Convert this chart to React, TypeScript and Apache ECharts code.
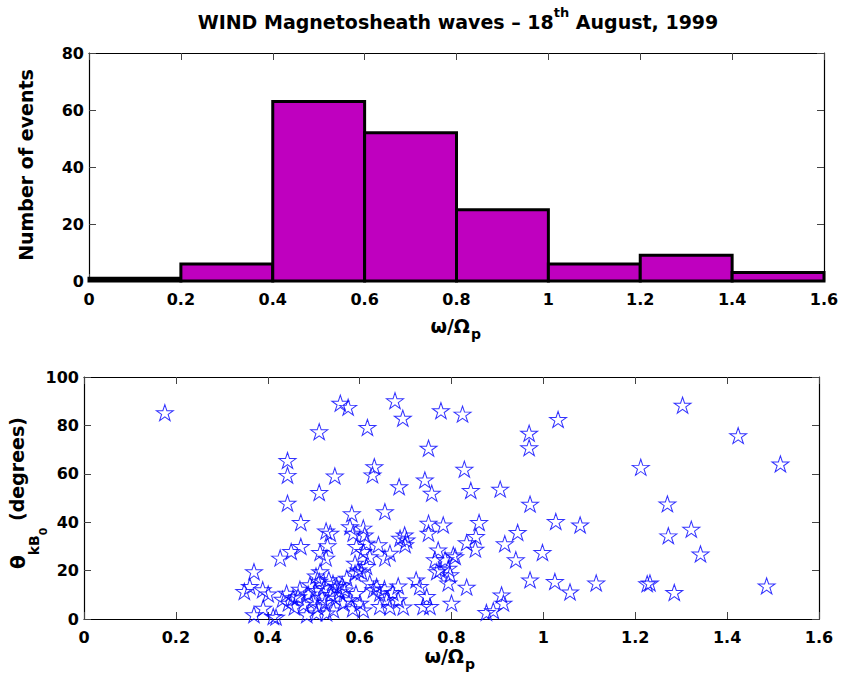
import React, { useEffect, useRef } from 'react';
import * as echarts from 'echarts';

// Histogram: bin edges in omega/Omega_p and number of events per bin
const binEdges = [0, 0.2, 0.4, 0.6, 0.8, 1.0, 1.2, 1.4, 1.6];
const eventCounts = [1, 6, 63, 52, 25, 6, 9, 3];

// Scatter: [omega/Omega_p, theta_kB0 (degrees)]
const eventsBelow04 = [
  [0.176, 85.3],
  [0.349, 11.4], [0.361, 13.5], [0.370, 19.6], [0.370, 1.8], [0.389, 12.1], [0.390, 4.5],
];

const events04to06 = [
  [0.401, 10.4], [0.412, 1.1], [0.418, 0.8], [0.427, 25.2], [0.441, 10.7], [0.445, 6.6],
  [0.443, 65.5], [0.443, 59.4], [0.443, 47.9], [0.451, 27.9], [0.455, 8.8], [0.466, 9.2],
  [0.472, 39.9], [0.472, 30.0], [0.485, 1.8], [0.506, 2.5], [0.512, 77.4], [0.512, 52.3],
  [0.514, 27.5], [0.514, 19.6], [0.527, 36.4], [0.530, 30.3], [0.527, 25.2], [0.528, 2.5],
  [0.536, 35.5], [0.543, 3.8], [0.546, 59.1], [0.550, 13.5], [0.558, 89.2], [0.564, 6.6],
  [0.572, 16.9], [0.575, 87.5], [0.579, 8.0], [0.579, 38.2], [0.583, 43.5], [0.586, 35.5],
  [0.590, 23.1], [0.590, 19.0], [0.593, 30.0], [0.597, 20.3],
  [0.432, 8.2], [0.458, 5.0], [0.470, 12.3], [0.478, 6.1], [0.488, 10.4], [0.492, 14.2],
  [0.498, 7.5], [0.503, 11.8], [0.508, 5.1], [0.512, 15.6], [0.518, 9.0], [0.522, 13.0],
  [0.525, 6.9], [0.533, 16.3], [0.538, 10.2], [0.542, 14.8], [0.548, 8.6], [0.556, 11.3],
  [0.562, 14.1], [0.568, 12.0], [0.585, 4.3], [0.592, 10.6], [0.505, 17.8],
];

const events06to08 = [
  [0.617, 79.2], [0.677, 90.2], [0.694, 83.0], [0.777, 86.1], [0.750, 70.6], [0.632, 63.0],
  [0.628, 59.6], [0.686, 54.7], [0.742, 57.5], [0.757, 52.0], [0.655, 44.4], [0.608, 37.6],
  [0.611, 34.8], [0.750, 39.6], [0.782, 38.9], [0.750, 35.5], [0.688, 33.4], [0.702, 32.7],
  [0.698, 34.8], [0.699, 30.7], [0.641, 30.7], [0.615, 31.4], [0.608, 27.9], [0.622, 25.8],
  [0.655, 25.2], [0.666, 27.2], [0.771, 28.6], [0.764, 24.5], [0.786, 24.5], [0.775, 20.4],
  [0.793, 21.0], [0.797, 18.3], [0.768, 19.6], [0.793, 14.9], [0.615, 21.7], [0.604, 19.6],
  [0.723, 16.2], [0.731, 13.5], [0.684, 13.7], [0.746, 9.3], [0.738, 5.2], [0.753, 5.2],
  [0.695, 5.0], [0.666, 5.0], [0.684, 8.0], [0.630, 12.1], [0.644, 10.7], [0.622, 14.9],
  [0.637, 13.5], [0.601, 6.6], [0.608, 3.8], [0.644, 5.2], [0.659, 8.0], [0.654, 12.5],
  [0.672, 11.0],
];

const events08to10 = [
  [0.804, 26.5], [0.808, 25.8], [0.800, 6.6], [0.824, 84.7], [0.828, 61.9], [0.842, 53.1],
  [0.906, 53.7], [0.969, 76.8], [0.969, 70.8], [0.971, 47.5], [0.860, 39.9], [0.853, 34.1],
  [0.833, 31.6], [0.852, 28.9], [0.944, 35.8], [0.916, 31.1], [0.940, 24.5], [0.998, 27.5],
  [0.833, 13.2], [0.971, 16.2], [0.909, 10.0], [0.913, 6.6], [0.876, 2.7], [0.891, 3.5],
];

const eventsAbove10 = [
  [1.032, 82.5], [1.027, 40.3], [1.025, 15.5], [1.058, 11.2], [1.080, 38.9], [1.115, 14.9],
  [1.212, 62.7], [1.226, 14.6], [1.232, 14.9], [1.270, 47.6], [1.272, 34.4], [1.285, 11.0],
  [1.303, 88.4], [1.322, 37.1], [1.342, 26.9],
  [1.424, 75.8], [1.486, 13.7], [1.516, 64.1],
];

const FONT = '"DejaVu Sans", "Liberation Sans", sans-serif';
const STAR = 'path://M0,-100L22.45,-30.9L95.1,-30.9L36.3,11.8L58.8,80.9L0,38.2L-58.8,80.9L-36.3,11.8L-95.1,-30.9L-22.45,-30.9Z';

const xAxisFor = (gridIndex: number, position: string, showLabels: boolean) => ({
  type: 'value',
  gridIndex,
  position,
  min: 0,
  max: 1.6,
  interval: 0.2,
  axisLine: { show: true, onZero: false, lineStyle: { color: '#000', width: 1.2 } },
  axisTick: { show: true, inside: true, length: 7, lineStyle: { color: '#444', width: 1 } },
  axisLabel: {
    show: showLabels, color: '#000', fontFamily: FONT, fontWeight: 'bold', fontSize: 16, margin: 10,
  },
  splitLine: { show: false },
});

const yAxisFor = (gridIndex: number, position: string, showLabels: boolean, max: number) => ({
  type: 'value',
  gridIndex,
  position,
  min: 0,
  max,
  interval: 20,
  axisLine: { show: true, onZero: false, lineStyle: { color: '#000', width: 1.2 } },
  axisTick: { show: true, inside: true, length: 7, lineStyle: { color: '#444', width: 1 } },
  axisLabel: {
    show: showLabels, color: '#000', fontFamily: FONT, fontWeight: 'bold', fontSize: 16, margin: 5,
  },
  splitLine: { show: false },
});

const boldFont = (px: number) => `bold ${px}px ${FONT}`;

const plainText = (x: number, y: number, text: string, px: number, align: string) => ({
  type: 'text',
  x,
  y,
  style: { text, align, verticalAlign: 'middle', fill: '#000', font: boldFont(px) },
});

export default function App() {
  const ref = useRef<HTMLDivElement>(null);

  useEffect(() => {
    document.body.style.margin = '0';
    const chart = echarts.init(ref.current!, null, { renderer: 'svg' });

    const histData = eventCounts.map((c, i) => [binEdges[i], binEdges[i + 1], c]);
    const scatterData = [
      ...eventsBelow04, ...events04to06, ...events06to08, ...events08to10, ...eventsAbove10,
    ];

    const option: any = {
      animation: false,
      backgroundColor: '#fff',
      grid: [
        { left: 89, right: 18, top: 53, bottom: 404 },
        { left: 84, right: 23, top: 377, bottom: 66 },
      ],
      xAxis: [
        xAxisFor(0, 'bottom', true),
        xAxisFor(0, 'top', false),
        xAxisFor(1, 'bottom', true),
        xAxisFor(1, 'top', false),
      ],
      yAxis: [
        yAxisFor(0, 'left', true, 80),
        yAxisFor(0, 'right', false, 80),
        yAxisFor(1, 'left', true, 100),
        yAxisFor(1, 'right', false, 100),
      ],
      series: [
        {
          type: 'custom',
          xAxisIndex: 0,
          yAxisIndex: 0,
          data: histData,
          encode: { x: [0, 1], y: 2 },
          clip: false,
          renderItem: (params: any, api: any) => {
            const p0 = api.coord([api.value(0), api.value(2)]);
            const p1 = api.coord([api.value(1), 0]);
            return {
              type: 'rect',
              shape: { x: p0[0], y: p0[1], width: p1[0] - p0[0], height: p1[1] - p0[1] },
              style: { fill: '#BF00BF', stroke: '#000', lineWidth: 3 },
            };
          },
        },
        {
          type: 'scatter',
          xAxisIndex: 2,
          yAxisIndex: 2,
          data: scatterData,
          symbol: STAR,
          symbolSize: [17, 16],
          clip: false,
          itemStyle: { color: 'rgba(0,0,0,0)', borderColor: '#0000FF', borderWidth: 1 },
        },
      ],
      graphic: [
        {
          type: 'text',
          x: 458,
          y: 19,
          style: {
            text: '{m|WIND Magnetosheath waves – 18}{s|th}{m| August, 1999}',
            align: 'center',
            verticalAlign: 'middle',
            fill: '#000',
            font: boldFont(19),
            rich: {
              m: { font: boldFont(19), fill: '#000', padding: [6.5, 0, 0, 0], verticalAlign: 'top' },
              s: { font: boldFont(13), fill: '#000', verticalAlign: 'top' },
            },
          },
        },
        // x-axis names: omega / Omega with subscript p
        plainText(470, 326, 'ω/Ω', 19, 'right'),
        plainText(471, 334, 'p', 14, 'left'),
        plainText(464, 656, 'ω/Ω', 19, 'right'),
        plainText(465, 664, 'p', 14, 'left'),
        {
          type: 'text',
          x: 26,
          y: 165,
          rotation: Math.PI / 2,
          style: {
            text: 'Number of events',
            align: 'center',
            verticalAlign: 'middle',
            fill: '#000',
            font: boldFont(19),
          },
        },
        {
          type: 'text',
          x: 28,
          y: 493,
          rotation: Math.PI / 2,
          style: {
            text: '{t|θ}{k|kB}{z|0}{m| (degrees)}',
            align: 'center',
            verticalAlign: 'middle',
            fill: '#000',
            font: boldFont(19),
            rich: {
              t: { font: boldFont(20), fill: '#000', verticalAlign: 'top' },
              k: { font: boldFont(14), fill: '#000', padding: [19, 0, 0, 0], verticalAlign: 'top' },
              z: { font: boldFont(11), fill: '#000', padding: [30, 0, 0, 0], verticalAlign: 'top' },
              m: { font: boldFont(19), fill: '#000', verticalAlign: 'top' },
            },
          },
        },
      ],
    };

    chart.setOption(option);
    return () => chart.dispose();
  }, []);

  return (
    <div
      ref={ref}
      style={{ position: 'absolute', left: 0, top: 0, width: 842, height: 685, background: '#fff' }}
    />
  );
}
